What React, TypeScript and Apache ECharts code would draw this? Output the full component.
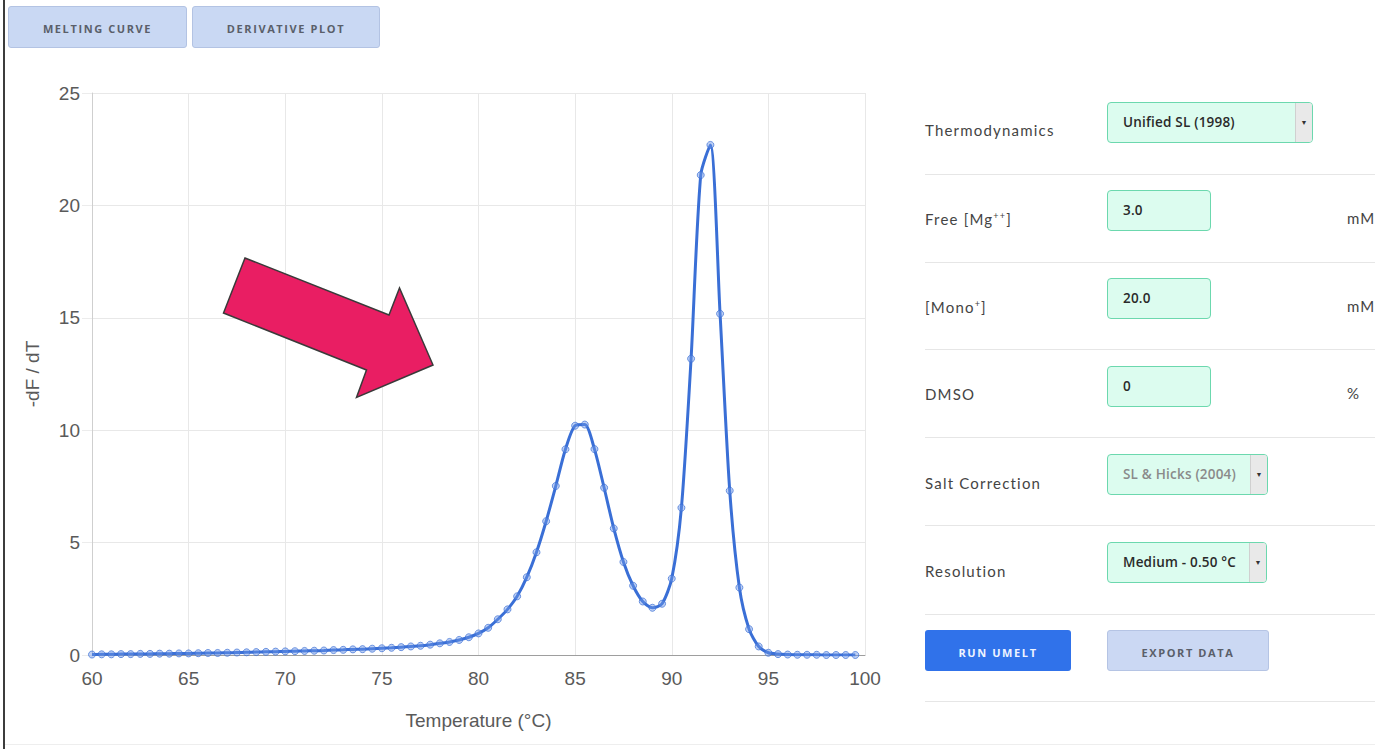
import React, { useEffect, useRef } from "react";
import * as echarts from "echarts";

const temperatures = [
  60, 60.5, 61, 61.5, 62, 62.5, 63, 63.5, 64, 64.5, 65, 65.5, 66, 66.5, 67, 67.5, 68, 68.5, 69, 69.5,
  70, 70.5, 71, 71.5, 72, 72.5, 73, 73.5, 74, 74.5, 75, 75.5, 76, 76.5, 77, 77.5, 78, 78.5, 79, 79.5,
  80, 80.5, 81, 81.5, 82, 82.5, 83, 83.5, 84, 84.5, 85, 85.5, 86, 86.5, 87, 87.5, 88, 88.5, 89, 89.5,
  90, 90.5, 91, 91.5, 92, 92.5, 93, 93.5, 94, 94.5, 95, 95.5, 96, 96.5, 97, 97.5, 98, 98.5, 99, 99.5,
];

const derivative = [
  0.02, 0.03, 0.03, 0.04, 0.04, 0.05, 0.05, 0.06, 0.06, 0.07, 0.07, 0.08, 0.09, 0.09, 0.1, 0.11, 0.12, 0.13, 0.14, 0.15,
  0.16, 0.17, 0.18, 0.19, 0.2, 0.22, 0.23, 0.25, 0.26, 0.28, 0.3, 0.32, 0.35, 0.38, 0.41, 0.46, 0.52, 0.58, 0.67, 0.79,
  0.96, 1.21, 1.59, 2.03, 2.61, 3.46, 4.57, 5.95, 7.52, 9.15, 10.2, 10.25, 9.16, 7.44, 5.63, 4.14, 3.08, 2.38, 2.1, 2.28,
  3.4, 6.55, 13.18, 21.35, 22.69, 15.18, 7.31, 3.0, 1.15, 0.38, 0.1, 0.04, 0.02, 0.01, 0.01, 0.01, 0.0, 0.0, 0.0, 0.0,
];

const xTicks = { min: 60, max: 100, interval: 5 };
const yTicks = { min: 0, max: 25, interval: 5 };

const topButtons = ["MELTING CURVE", "DERIVATIVE PLOT"];

const labelFont = "Lato, 'Open Sans', sans-serif";
const inputFont = "'Open Sans', 'Noto Sans', sans-serif";

function Chart() {
  const ref = useRef<HTMLDivElement>(null);
  useEffect(() => {
    if (!ref.current) return;
    const chart = echarts.init(ref.current, undefined, { renderer: "svg" });
    const data = temperatures.map((t, i) => [t, derivative[i]]);
    chart.setOption({
      animation: false,
      grid: { left: 92, top: 93, right: 35, bottom: 94 },
      xAxis: {
        type: "value",
        min: xTicks.min,
        max: xTicks.max,
        interval: xTicks.interval,
        name: "Temperature (°C)",
        nameLocation: "middle",
        nameGap: 56,
        nameTextStyle: { fontFamily: "'Liberation Sans', Arial, sans-serif", fontSize: 19, color: "#5a5a5a" },
        axisLine: { show: true, lineStyle: { color: "#9e9e9e", width: 1 } },
        axisTick: { show: false },
        axisLabel: { fontFamily: "'Liberation Sans', Arial, sans-serif", fontSize: 19, color: "#5a5a5a", margin: 14 },
        splitLine: { show: true, lineStyle: { color: "#e8e8e8", width: 1 } },
      },
      yAxis: {
        type: "value",
        min: yTicks.min,
        max: yTicks.max,
        interval: yTicks.interval,
        name: "-dF / dT",
        nameLocation: "middle",
        nameGap: 50,
        nameTextStyle: { fontFamily: "'Liberation Sans', Arial, sans-serif", fontSize: 19, color: "#5a5a5a" },
        axisLine: { show: true, lineStyle: { color: "#cfcfcf", width: 1 } },
        axisTick: { show: true, length: 10, lineStyle: { color: "#ececec" } },
        axisLabel: { fontFamily: "'Liberation Sans', Arial, sans-serif", fontSize: 19, color: "#5a5a5a", margin: 12 },
        splitLine: { show: true, lineStyle: { color: "#e8e8e8", width: 1 } },
      },
      series: [
        {
          type: "line",
          data,
          smooth: 0.25,
          symbol: "circle",
          symbolSize: 7,
          showAllSymbol: true,
          lineStyle: { color: "#3a6fd6", width: 3 },
          itemStyle: { color: "rgba(110,150,230,0.45)", borderColor: "rgba(58,111,214,0.7)", borderWidth: 1 },
          z: 3,
        },
      ],
      graphic: [
        {
          type: "polygon",
          z: 10,
          shape: {
            points: [
              [245, 258],
              [389, 315],
              [399.5, 288],
              [433, 365],
              [356.5, 397.5],
              [366.5, 370],
              [223.5, 313],
            ],
          },
          style: { fill: "#e91e63", stroke: "#3a3a3a", lineWidth: 1.5 },
        },
      ],
    });
    return () => chart.dispose();
  }, []);
  return <div ref={ref} style={{ position: "absolute", left: 0, top: 0, width: 900, height: 749 }} />;
}

const btnBase: React.CSSProperties = {
  position: "absolute",
  boxSizing: "border-box",
  borderRadius: 3,
  display: "flex",
  alignItems: "center",
  justifyContent: "center",
  fontFamily: inputFont,
  fontWeight: 700,
  fontSize: 11,
  letterSpacing: 1.6,
};

function Field(props: { top: number; width: number; text: string; select?: boolean; muted?: boolean }) {
  const { top, width, text, select, muted } = props;
  return (
    <div
      style={{
        position: "absolute",
        left: 1107,
        top,
        width,
        height: 41,
        boxSizing: "border-box",
        background: "#dcfcef",
        border: "1.5px solid #6cd8ae",
        borderRadius: 4,
        overflow: "hidden",
      }}
    >
      <div
        style={{
          position: "absolute",
          left: 15,
          top: 10,
          fontFamily: inputFont,
          fontSize: 13.5,
          fontWeight: 600,
          letterSpacing: 0.2,
          color: muted ? "#8a8a8a" : "#2a2a2a",
          whiteSpace: "nowrap",
        }}
      >
        {text}
      </div>
      {select && (
        <div
          style={{
            position: "absolute",
            right: 0,
            top: 0,
            width: 16,
            height: "100%",
            background: "#e9e9e9",
            borderLeft: "1px solid #d0d0d0",
            display: "flex",
            alignItems: "center",
            justifyContent: "center",
            fontSize: 7,
            color: "#333",
          }}
        >
          ▼
        </div>
      )}
    </div>
  );
}

function Label(props: { top: number; children: React.ReactNode }) {
  return (
    <div
      style={{
        position: "absolute",
        left: 925,
        top: props.top,
        fontFamily: labelFont,
        fontSize: 15,
        color: "#444",
        letterSpacing: 1.2,
        whiteSpace: "nowrap",
      }}
    >
      {props.children}
    </div>
  );
}

function Unit(props: { top: number; text: string }) {
  return (
    <div
      style={{
        position: "absolute",
        left: 1347,
        top: props.top,
        fontFamily: labelFont,
        fontSize: 15,
        color: "#444",
        letterSpacing: 1,
        whiteSpace: "nowrap",
      }}
    >
      {props.text}
    </div>
  );
}

export default function App() {
  const separators = [174, 262, 349, 437, 525, 614, 701];
  return (
    <div
      style={{
        position: "fixed",
        left: 0,
        top: 0,
        width: 1375,
        height: 749,
        overflow: "hidden",
        background: "#fff",
      }}
    >
      <Chart />
      <div style={{ position: "absolute", left: 3, top: 0, width: 2, height: 749, background: "#3c3c3c" }} />
      <div style={{ position: "absolute", left: 5, top: 744, width: 1370, height: 1, background: "#eeeeee" }} />
      {topButtons.map((t, i) => (
        <div
          key={t}
          style={{
            ...btnBase,
            left: i === 0 ? 8 : 192,
            top: 6,
            width: i === 0 ? 179 : 188,
            height: 42,
            paddingTop: 2,
            background: "#c9d8f3",
            border: "1px solid #b3c3e3",
            color: "#5a5f6a",
          }}
        >
          {t}
        </div>
      ))}
      {separators.map((y) => (
        <div key={y} style={{ position: "absolute", left: 925, top: y, width: 450, height: 1, background: "#e6e6e6" }} />
      ))}
      <Label top={121}>Thermodynamics</Label>
      <Label top={210}>
        Free [Mg<sup style={{ fontSize: 9 }}>++</sup>]
      </Label>
      <Label top={298}>
        [Mono<sup style={{ fontSize: 9 }}>+</sup>]
      </Label>
      <Label top={385}>DMSO</Label>
      <Label top={474}>Salt Correction</Label>
      <Label top={562}>Resolution</Label>
      <Field top={102} width={206} text="Unified SL (1998)" select />
      <Field top={190} width={104} text="3.0" />
      <Field top={278} width={104} text="20.0" />
      <Field top={366} width={104} text="0" />
      <Field top={454} width={161} text="SL & Hicks (2004)" select muted />
      <Field top={542} width={160} text="Medium - 0.50 °C" select />
      <Unit top={209} text="mM" />
      <Unit top={297} text="mM" />
      <Unit top={384} text="%" />
      <div
        style={{
          ...btnBase,
          left: 925,
          top: 630,
          width: 146,
          height: 41,
          paddingTop: 4,
          background: "#3072ea",
          color: "#eef3ff",
        }}
      >
        RUN UMELT
      </div>
      <div
        style={{
          ...btnBase,
          left: 1107,
          top: 630,
          width: 162,
          height: 41,
          paddingTop: 4,
          background: "#cbd8f3",
          border: "1px solid #b5c4e4",
          color: "#5a5f6a",
        }}
      >
        EXPORT DATA
      </div>
    </div>
  );
}
